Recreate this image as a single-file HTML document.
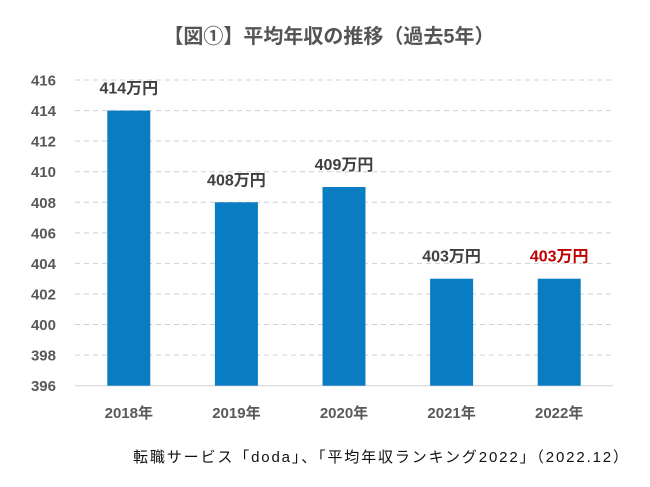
<!DOCTYPE html>
<html><head><meta charset="utf-8"><style>
body{margin:0;background:#fff;font-family:"Liberation Sans","Noto Sans CJK JP",sans-serif;}
svg text{font-family:"Liberation Sans","Noto Sans CJK JP",sans-serif;}
</style></head><body>
<svg id="c" width="650" height="482">
<text x="329" y="43" text-anchor="middle" font-size="20" font-weight="bold" fill="#555">【図①】平均年収の推移（過去5年）</text>
<text x="133" y="462" font-size="15" fill="#111" textLength="495" lengthAdjust="spacing">転職サービス「doda」、「平均年収ランキング2022」（2022.12）</text>
</svg>
<script>
const categories=["2018年","2019年","2020年","2021年","2022年"];
const values=[414,408,409,403,403];
const labels=["414万円","408万円","409万円","403万円","403万円"];
const labelColors=["#404040","#404040","#404040","#404040","#c00000"];
const yTicks=[396,398,400,402,404,406,408,410,412,414,416];
const svg=document.getElementById('c');
const NS="http://www.w3.org/2000/svg";
const x0=75,x1=613,yTop=80,yBot=385.7,vMin=396,vMax=416;
const y=v=>yBot-(v-vMin)/(vMax-vMin)*(yBot-yTop);
const band=(x1-x0)/categories.length;
const xc=i=>x0+band*(i+0.5);
function mk(t,a){const e=document.createElementNS(NS,t);for(const k in a)e.setAttribute(k,a[k]);svg.appendChild(e);return e;}
yTicks.forEach(v=>{
  if(v!==vMin){const g=mk('line',{x1:x0,x2:x1,y1:y(v),y2:y(v),stroke:'#d0d0d0','stroke-dasharray':'5,4'});
  
  }
  const t=mk('text',{x:56,y:y(v)+5.5,'text-anchor':'end','font-size':'15','font-weight':'bold',fill:'#595959'});
  t.textContent=v;
  
  
});
const ax=mk('line',{x1:x0,x2:x1,y1:yBot,y2:yBot,stroke:'#d0d0d0'});


values.forEach((v,i)=>{
  const w=43;
  const r=mk('rect',{x:xc(i)-w/2,y:y(v),width:w,height:yBot-y(v),fill:'#0a7cc1'});
  
  
  const l=mk('text',{x:xc(i),y:y(v)-17,'text-anchor':'middle','font-size':'16','font-weight':'bold',fill:labelColors[i]});
  l.textContent=labels[i];
  
  
  const c=mk('text',{x:xc(i),y:418,'text-anchor':'middle','font-size':'15','font-weight':'bold',fill:'#595959'});
  c.textContent=categories[i];
  
  
});
</script>
</body></html>
